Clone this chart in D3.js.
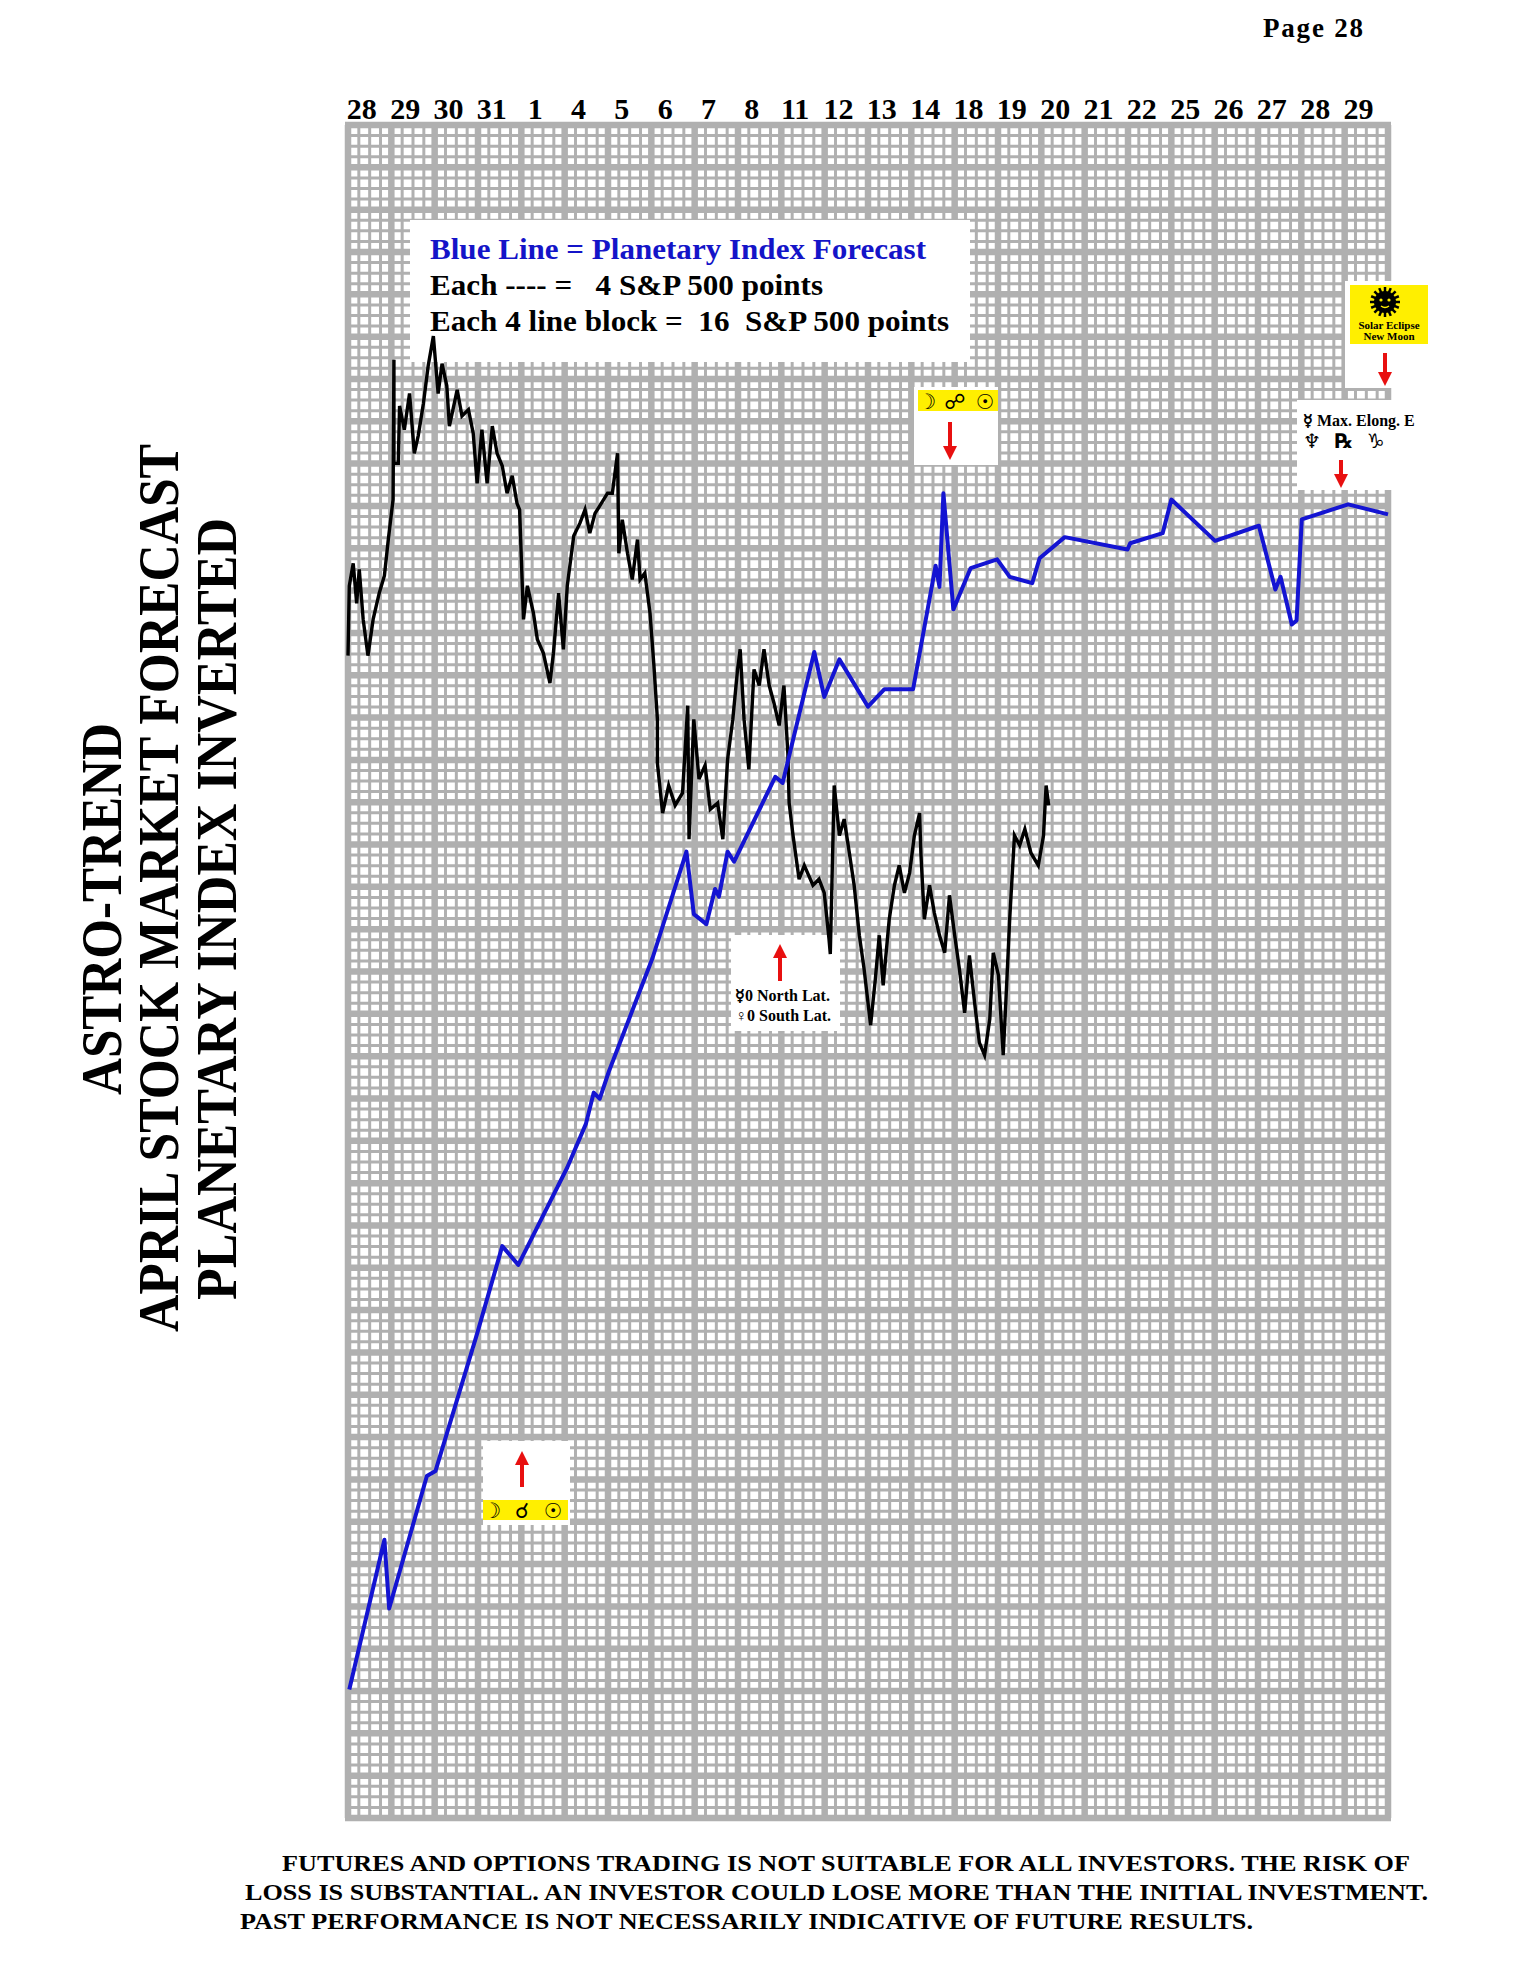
<!DOCTYPE html>
<html><head><meta charset="utf-8">
<script src="https://cdn.jsdelivr.net/npm/d3@7"></script>
<style>body{margin:0;background:#fff}</style>
</head><body><div id="c"></div>
<script>
const dateLabels=["28","29","30","31","1","4","5","6","7","8","11","12","13","14","18","19","20","21","22","25","26","27","28","29"];
// Planetary index forecast (inverted): [day position, points from top]
const blueDay=[0.03,0.84,0.95,1.82,2.02,2.98,3.56,3.93,5.06,5.49,5.67,5.81,6.02,7.03,7.81,7.98,8.27,8.47,8.56,8.76,8.91,9.86,10.03,10.76,10.99,11.34,12.00,12.38,13.04,13.56,13.65,13.74,13.97,14.37,14.98,15.27,15.79,15.96,16.54,17.99,18.05,18.80,19.00,20.01,21.02,21.40,21.52,21.78,21.89,22.01,23.08,24.0];
const blueVal=[591.4,534.8,560.8,510.7,508.8,456.9,423.8,430.9,394.1,377.6,365.8,368.1,357.8,314.8,274.7,298.3,302.1,288.8,291.7,274.7,278.5,246.4,248.7,199.2,216.2,202.0,219.9,213.3,213.3,166.6,174.6,139.2,183.1,167.5,164.2,170.8,173.2,163.8,155.8,160.5,158.1,154.3,141.6,157.2,151.5,175.6,170.8,188.8,187.3,149.1,143.4,147.2];
// S&P 500 actual (inverted)
const spDay=[0.00,0.03,0.12,0.20,0.26,0.35,0.46,0.58,0.72,0.84,0.93,1.04,1.06,1.06,1.16,1.19,1.30,1.42,1.53,1.62,1.74,1.85,1.97,2.08,2.17,2.28,2.34,2.52,2.63,2.78,2.89,2.98,3.09,3.21,3.33,3.44,3.56,3.67,3.79,3.90,3.96,4.05,4.14,4.28,4.37,4.51,4.66,4.74,4.86,4.97,5.06,5.21,5.35,5.47,5.58,5.70,5.81,5.99,6.10,6.22,6.25,6.33,6.45,6.56,6.68,6.74,6.85,6.97,7.06,7.14,7.14,7.26,7.40,7.55,7.72,7.84,7.87,7.98,8.10,8.24,8.36,8.53,8.65,8.76,8.88,8.99,9.05,9.14,9.25,9.37,9.49,9.60,9.72,9.83,9.95,10.06,10.15,10.18,10.27,10.41,10.53,10.73,10.87,10.99,11.10,11.13,11.22,11.34,11.45,11.57,11.68,11.80,11.91,12.06,12.17,12.26,12.35,12.49,12.61,12.72,12.84,12.96,13.07,13.19,13.22,13.30,13.42,13.53,13.65,13.77,13.88,14.00,14.11,14.23,14.34,14.46,14.57,14.69,14.81,14.89,15.01,15.12,15.18,15.27,15.38,15.50,15.62,15.76,15.93,16.05,16.11,16.17];
const spVal=[200.6,174.2,165.7,180.8,168.0,186.9,200.6,186.9,177.0,170.4,156.7,141.6,88.7,127.9,127.9,106.2,115.2,101.5,124.1,117.5,105.3,91.1,79.8,101.5,90.2,98.6,113.8,100.1,110.0,107.6,116.6,135.5,115.2,135.5,113.8,124.1,128.9,139.2,132.6,143.0,145.4,186.9,174.2,184.6,194.5,199.7,211.0,199.7,177.0,198.2,174.2,155.3,150.6,145.4,154.3,146.8,144.0,139.2,139.2,124.1,161.9,149.2,161.9,171.8,156.7,171.8,169.4,184.6,204.4,224.7,241.2,260.1,249.7,257.2,252.5,219.5,270.0,224.7,247.3,242.1,258.7,256.3,270.0,239.8,224.7,205.8,198.2,224.7,243.6,205.8,211.9,198.2,211.9,218.5,227.0,211.9,237.4,256.3,268.6,285.1,279.9,287.4,285.1,290.3,307.7,313.4,249.7,268.6,262.4,275.2,287.4,306.3,319.1,340.3,322.8,306.3,325.2,300.2,287.4,279.9,290.3,282.7,268.6,260.1,275.2,300.2,287.4,297.8,306.3,312.9,291.2,306.3,319.1,335.6,313.9,331.8,346.9,351.6,338.0,312.9,321.4,351.6,331.8,300.2,268.6,272.3,266.2,275.2,279.9,268.6,249.7,257.2];

const W=1524,H=1968,L=348,R=1388,T=125,B=1818;
const x=d3.scaleLinear([0,24],[L,R]);
const y=d3.scaleLinear([0,640],[T,B]);
const svg=d3.select("#c").append("svg").attr("width",W).attr("height",H);
svg.append("rect").attr("width",W).attr("height",H).attr("fill","#fff");
const serif="'Liberation Serif','Times New Roman',serif", sym="'DejaVu Sans',sans-serif";
const gc="#b0b0b0";
const g=svg.append("g");
d3.range(0,96.01,1).forEach(i=>{const maj=i%4===0;g.append("line").attr("x1",x(i/4)).attr("x2",x(i/4)).attr("y1",T).attr("y2",B).attr("stroke",gc).attr("stroke-width",maj?6.5:3);});
d3.range(0,160.01,1).forEach(i=>{const maj=i%4===0;g.append("line").attr("y1",y(i*4)).attr("y2",y(i*4)).attr("x1",L-3).attr("x2",R+3).attr("stroke",gc).attr("stroke-width",maj?6.5:3);});

svg.selectAll(".dl").data(dateLabels).join("text").attr("x",(d,i)=>x(i+0.32)).attr("y",119)
 .attr("text-anchor","middle").attr("font-family",serif).attr("font-weight","bold").attr("font-size",30).text(d=>d);
svg.append("text").attr("x",1263).attr("y",37).attr("font-family",serif).attr("font-weight","bold").attr("font-size",27).attr("textLength",100).attr("lengthAdjust","spacing").text("Page 28");

function box(x0,y0,x1,y1){svg.append("rect").attr("x",x0).attr("y",y0).attr("width",x1-x0).attr("height",y1-y0).attr("fill","#fff");}
box(410,220,970,362);box(483,1441,570,1525);box(914,387,998,465);box(731,935,840,1031);box(1345,281,1428,388);box(1297,400,1413,490);

const line=d3.line().x(d=>x(d[0])).y(d=>y(d[1]));
svg.append("path").attr("d",line(spDay.map((d,i)=>[d,spVal[i]]))).attr("fill","none").attr("stroke","#000").attr("stroke-width",3.4).attr("stroke-linejoin","miter");
svg.append("path").attr("d",line(blueDay.map((d,i)=>[d,blueVal[i]]))).attr("fill","none").attr("stroke","#1414d2").attr("stroke-width",4).attr("stroke-linejoin","round");

const lg=[["Blue Line = Planetary Index Forecast","#1414c8",496],["Each ---- =   4 S&P 500 points","#000",393],["Each 4 line block =  16  S&P 500 points","#000",519]];
lg.forEach((d,i)=>svg.append("text").attr("x",430).attr("y",259+i*36).attr("font-family",serif).attr("font-weight","bold").attr("font-size",30).attr("fill",d[1]).attr("textLength",d[2]).attr("lengthAdjust","spacingAndGlyphs").style("white-space","pre").text(d[0]));

function arrow(ax,y0,y1){const dir=y1>y0?1:-1;
 svg.append("line").attr("x1",ax).attr("x2",ax).attr("y1",y0).attr("y2",y1-dir*12).attr("stroke","#e81010").attr("stroke-width",4);
 svg.append("path").attr("d",`M${ax-7},${y1-dir*14}L${ax+7},${y1-dir*14}L${ax},${y1}Z`).attr("fill","#e81010");}
function yel(x0,y0,x1,y1){svg.append("rect").attr("x",x0).attr("y",y0).attr("width",x1-x0).attr("height",y1-y0).attr("fill","#ffef00");}
yel(483,1500,568,1520);arrow(522,1487,1451);
[["☽",492],["☌",522],["☉",553]].forEach(d=>svg.append("text").attr("x",d[1]).attr("y",1518).attr("text-anchor","middle").attr("font-family",sym).attr("font-weight","bold").attr("font-size",21).text(d[0]));
yel(918,390,998,411);arrow(950,422,460);
[["☽",927],["☍",955],["☉",985]].forEach(d=>svg.append("text").attr("x",d[1]).attr("y",409).attr("text-anchor","middle").attr("font-family",sym).attr("font-weight","bold").attr("font-size",21).text(d[0]));
arrow(780,981,944);
svg.append("text").attr("x",735).attr("y",1001).attr("font-family",serif).attr("font-weight","bold").attr("font-size",16).text("☿0 North Lat.");
svg.append("text").attr("x",735).attr("y",1021).attr("font-family",serif).attr("font-weight","bold").attr("font-size",16).text("♀0 South Lat.");
yel(1350,285,1428,344);arrow(1385,353,386);
const sc=[1385,302];
d3.range(0,16).forEach(i=>{const a=i*Math.PI/8;svg.append("line").attr("x1",sc[0]+Math.cos(a)*10).attr("y1",sc[1]+Math.sin(a)*10).attr("x2",sc[0]+Math.cos(a)*15).attr("y2",sc[1]+Math.sin(a)*15).attr("stroke","#000").attr("stroke-width",2.5);});
svg.append("circle").attr("cx",sc[0]).attr("cy",sc[1]).attr("r",11).attr("fill","#000");
svg.append("circle").attr("cx",sc[0]-4).attr("cy",sc[1]-2).attr("r",1.6).attr("fill","#ffef00");
svg.append("circle").attr("cx",sc[0]+4).attr("cy",sc[1]-2).attr("r",1.6).attr("fill","#ffef00");
svg.append("path").attr("d",`M${sc[0]-4},${sc[1]+4}Q${sc[0]},${sc[1]+7} ${sc[0]+4},${sc[1]+4}`).attr("stroke","#ffef00").attr("stroke-width",1.4).attr("fill","none");
svg.append("text").attr("x",1389).attr("y",329).attr("text-anchor","middle").attr("font-family",serif).attr("font-weight","bold").attr("font-size",11).text("Solar Eclipse");
svg.append("text").attr("x",1389).attr("y",340).attr("text-anchor","middle").attr("font-family",serif).attr("font-weight","bold").attr("font-size",11).text("New Moon");
svg.append("text").attr("x",1303).attr("y",426).attr("font-family",serif).attr("font-weight","bold").attr("font-size",16).text("☿ Max. Elong. E");
svg.append("text").attr("x",1303).attr("y",448).attr("font-family",sym).attr("font-weight","bold").attr("font-size",20).style("white-space","pre").text("♆  ℞  ♑");
arrow(1341,460,488);

[["ASTRO-TREND",121,909,372],["APRIL STOCK MARKET FORECAST",178,888,888],["PLANETARY INDEX INVERTED",236,909,782]].forEach(d=>{
 svg.append("text").attr("transform",`translate(${d[1]},${d[2]}) rotate(-90)`).attr("text-anchor","middle").attr("font-family",serif).attr("font-weight","bold").attr("font-size",58)
 .attr("textLength",d[3]).attr("lengthAdjust","spacingAndGlyphs").text(d[0]);});

[["FUTURES AND OPTIONS TRADING IS NOT SUITABLE FOR ALL INVESTORS.  THE RISK OF",282,1871,1128],["LOSS IS SUBSTANTIAL.  AN INVESTOR COULD LOSE MORE THAN THE INITIAL INVESTMENT.",245,1900,1183],["PAST PERFORMANCE IS NOT NECESSARILY INDICATIVE OF FUTURE RESULTS.",240,1929,1013]].forEach(d=>
 svg.append("text").attr("x",d[1]).attr("y",d[2]).attr("font-family",serif).attr("font-weight","bold").attr("font-size",24).attr("textLength",d[3]).attr("lengthAdjust","spacingAndGlyphs").text(d[0]));
</script></body></html>
